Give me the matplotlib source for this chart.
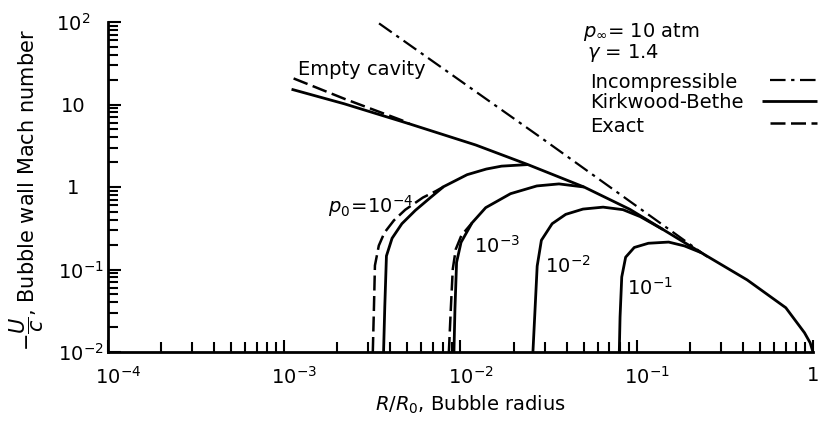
import matplotlib
matplotlib.use("Agg")
import matplotlib.pyplot as plt
import matplotlib.transforms as mtransforms
from matplotlib.lines import Line2D

plt.rcParams['font.family'] = ['DejaVu Sans']
plt.rcParams['mathtext.fontset'] = 'dejavusans'

# Empty cavity, Kirkwood-Bethe (solid) and exact (dashed, only where it separates)
cavity_R = [1.10e-3, 2.19e-3, 5.14e-3, 0.0122, 0.0241, 0.0502, 0.0914, 0.141,
            0.232, 0.423, 0.701, 0.895, 0.964, 1.0]
cavity_M = [15.3, 10.2, 5.82, 3.23, 1.87, 1.00, 0.536, 0.305,
            0.160, 0.0748, 0.0344, 0.0171, 0.0129, 0.01]
cavity_exact_R = [1.13e-3, 2.20e-3, 4.76e-3, 5.14e-3]
cavity_exact_M = [20.7, 11.7, 6.31, 5.82]

# Incompressible (Rayleigh) solution
incomp_R = [3.45e-3, 0.0283, 0.251]
incomp_M = [96.2, 4.03, 0.143]

# Gas-filled bubbles, initial pressure p0
p0_1e4_R = [3.66e-3, 3.72e-3, 3.80e-3, 4.09e-3, 4.65e-3, 5.55e-3, 6.71e-3,
            8.02e-3, 0.0109, 0.0140, 0.0171, 0.0241]
p0_1e4_M = [0.01, 0.0361, 0.146, 0.239, 0.359, 0.522, 0.736,
            1.01, 1.41, 1.65, 1.79, 1.87]
p0_1e4_exact_R = [3.18e-3, 3.23e-3, 3.27e-3, 3.44e-3, 3.70e-3, 4.19e-3,
                  4.86e-3, 6.12e-3, 7.24e-3, 8.02e-3]
p0_1e4_exact_M = [0.01, 0.0366, 0.112, 0.195, 0.279, 0.394,
                  0.530, 0.745, 0.891, 1.01]

p0_1e3_R = [9.18e-3, 9.30e-3, 9.50e-3, 0.01007, 0.01161, 0.0139, 0.01923,
            0.0271, 0.0362, 0.0502]
p0_1e3_M = [0.01, 0.033, 0.122, 0.213, 0.366, 0.562, 0.830,
            1.03, 1.09, 1.00]
p0_1e3_exact_R = [8.59e-3, 8.81e-3, 9.04e-3, 9.40e-3, 0.01012, 0.01161]
p0_1e3_exact_M = [0.01, 0.0331, 0.101, 0.176, 0.259, 0.366]

p0_1e2_R = [0.02576, 0.02642, 0.02723, 0.02877, 0.03311, 0.03954, 0.04955,
            0.06442, 0.08356, 0.1047, 0.141]
p0_1e2_M = [0.01, 0.0297, 0.110, 0.226, 0.359, 0.466, 0.540,
            0.570, 0.531, 0.437, 0.305]

p0_1e1_R = [0.0796, 0.0804, 0.0822, 0.0865, 0.0968, 0.1164, 0.1517, 0.1866, 0.232]
p0_1e1_M = [0.01, 0.0265, 0.0811, 0.141, 0.185, 0.208, 0.215, 0.193, 0.160]

x_ticks = [1e-4, 1e-3, 1e-2, 1e-1, 1]
x_tick_labels = [r'$10^{-4}$', r'$10^{-3}$', r'$10^{-2}$', r'$10^{-1}$', '1']
y_ticks = [1e-2, 1e-1, 1, 10, 1e2]
y_tick_labels = [r'$10^{-2}$', r'$10^{-1}$', '1', '10', r'$10^{2}$']

W, H = 829, 424
fig = plt.figure(figsize=(W / 100, H / 100), dpi=100)
ax = fig.add_axes([108 / W, 1 - 352 / H, 705 / W, 330 / H])
ax.set_xscale('log')
ax.set_yscale('log')
ax.set_xlim(1e-4, 1)
ax.set_ylim(1e-2, 1e2)

solid = dict(color='black', lw=2.0, solid_capstyle='butt')
dashed = dict(color='black', lw=1.8, dashes=(6, 2.2))
dashdot = dict(color='black', lw=1.6, dashes=(7, 2.5, 1.5, 2.5))

ax.plot(incomp_R, incomp_M, **dashdot)
ax.plot(cavity_R, cavity_M, **solid)
ax.plot(cavity_exact_R, cavity_exact_M, **dashed)
for R, M in [(p0_1e4_R, p0_1e4_M), (p0_1e3_R, p0_1e3_M),
             (p0_1e2_R, p0_1e2_M), (p0_1e1_R, p0_1e1_M)]:
    ax.plot(R, M, **solid)
for R, M in [(p0_1e4_exact_R, p0_1e4_exact_M), (p0_1e3_exact_R, p0_1e3_exact_M)]:
    ax.plot(R, M, **dashed)

# curve labels
lab = dict(fontsize=14, va='center', ha='left')
ax.text(1.20e-3, 26.4, 'Empty cavity', **lab)
ax.text(1.76e-3, 0.585, r'$p_0\!=\!10^{-4}$', **lab)
ax.text(0.0119, 0.193, r'$10^{-3}$', **lab)
ax.text(0.0302, 0.112, r'$10^{-2}$', **lab)
ax.text(0.0883, 0.0592, r'$10^{-1}$', **lab)

# axes styling
for side in ['top', 'right']:
    ax.spines[side].set_visible(False)
for side in ['left', 'bottom']:
    ax.spines[side].set_linewidth(2)
ax.tick_params(which='both', direction='in', width=1.5, labelsize=14)
ax.tick_params(which='major', length=9)
ax.tick_params(which='minor', length=7)
ax.tick_params(axis='x', pad=10)
ax.tick_params(axis='y', pad=25)
ax.set_xticks(x_ticks)
ax.set_xticklabels(x_tick_labels)
ax.set_yticks(y_ticks)
ax.set_yticklabels(y_tick_labels)

# keep the "10" of each label centred on its tick, exponent hanging to the right
def nudge(px):
    return mtransforms.ScaledTranslation(px / 100, 0, fig.dpi_scale_trans)

for lbl in ax.get_xticklabels()[:4]:
    lbl.set_transform(lbl.get_transform() + nudge(10))
y_nudge = [8, 8, 0, 0, 0]
for lbl, px in zip(ax.get_yticklabels(), y_nudge):
    lbl.set_ha('center')
    lbl.set_transform(lbl.get_transform() + nudge(px))

fig.text(27 / W, 1 - 190 / H, r'$-\dfrac{U}{c}$, Bubble wall Mach number',
         rotation=90, fontsize=15, ha='center', va='center')
fig.text(470 / W, 1 - 405 / H, r'$R/R_0$, Bubble radius',
         fontsize=14, ha='center', va='center')

# legend block
leg = dict(fontsize=14, ha='left', va='center')
fig.text(583 / W, 1 - 32 / H, r'$p_\infty$= 10 atm', **leg)
fig.text(587 / W, 1 - 53 / H, r'$\gamma$ = 1.4', **leg)
fig.text(590 / W, 1 - 82 / H, 'Incompressible', **leg)
fig.text(590 / W, 1 - 103 / H, 'Kirkwood-Bethe', **leg)
fig.text(590 / W, 1 - 126 / H, 'Exact', **leg)
fig.add_artist(Line2D([770 / W, 817 / W], [1 - 80 / H, 1 - 80 / H],
                      transform=fig.transFigure, **dashdot))
fig.add_artist(Line2D([762 / W, 817 / W], [1 - 101 / H, 1 - 101 / H],
                      transform=fig.transFigure, **solid))
fig.add_artist(Line2D([770 / W, 817 / W], [1 - 123 / H, 1 - 123 / H],
                      transform=fig.transFigure, **dashed))

fig.savefig('out.png', dpi=100)
